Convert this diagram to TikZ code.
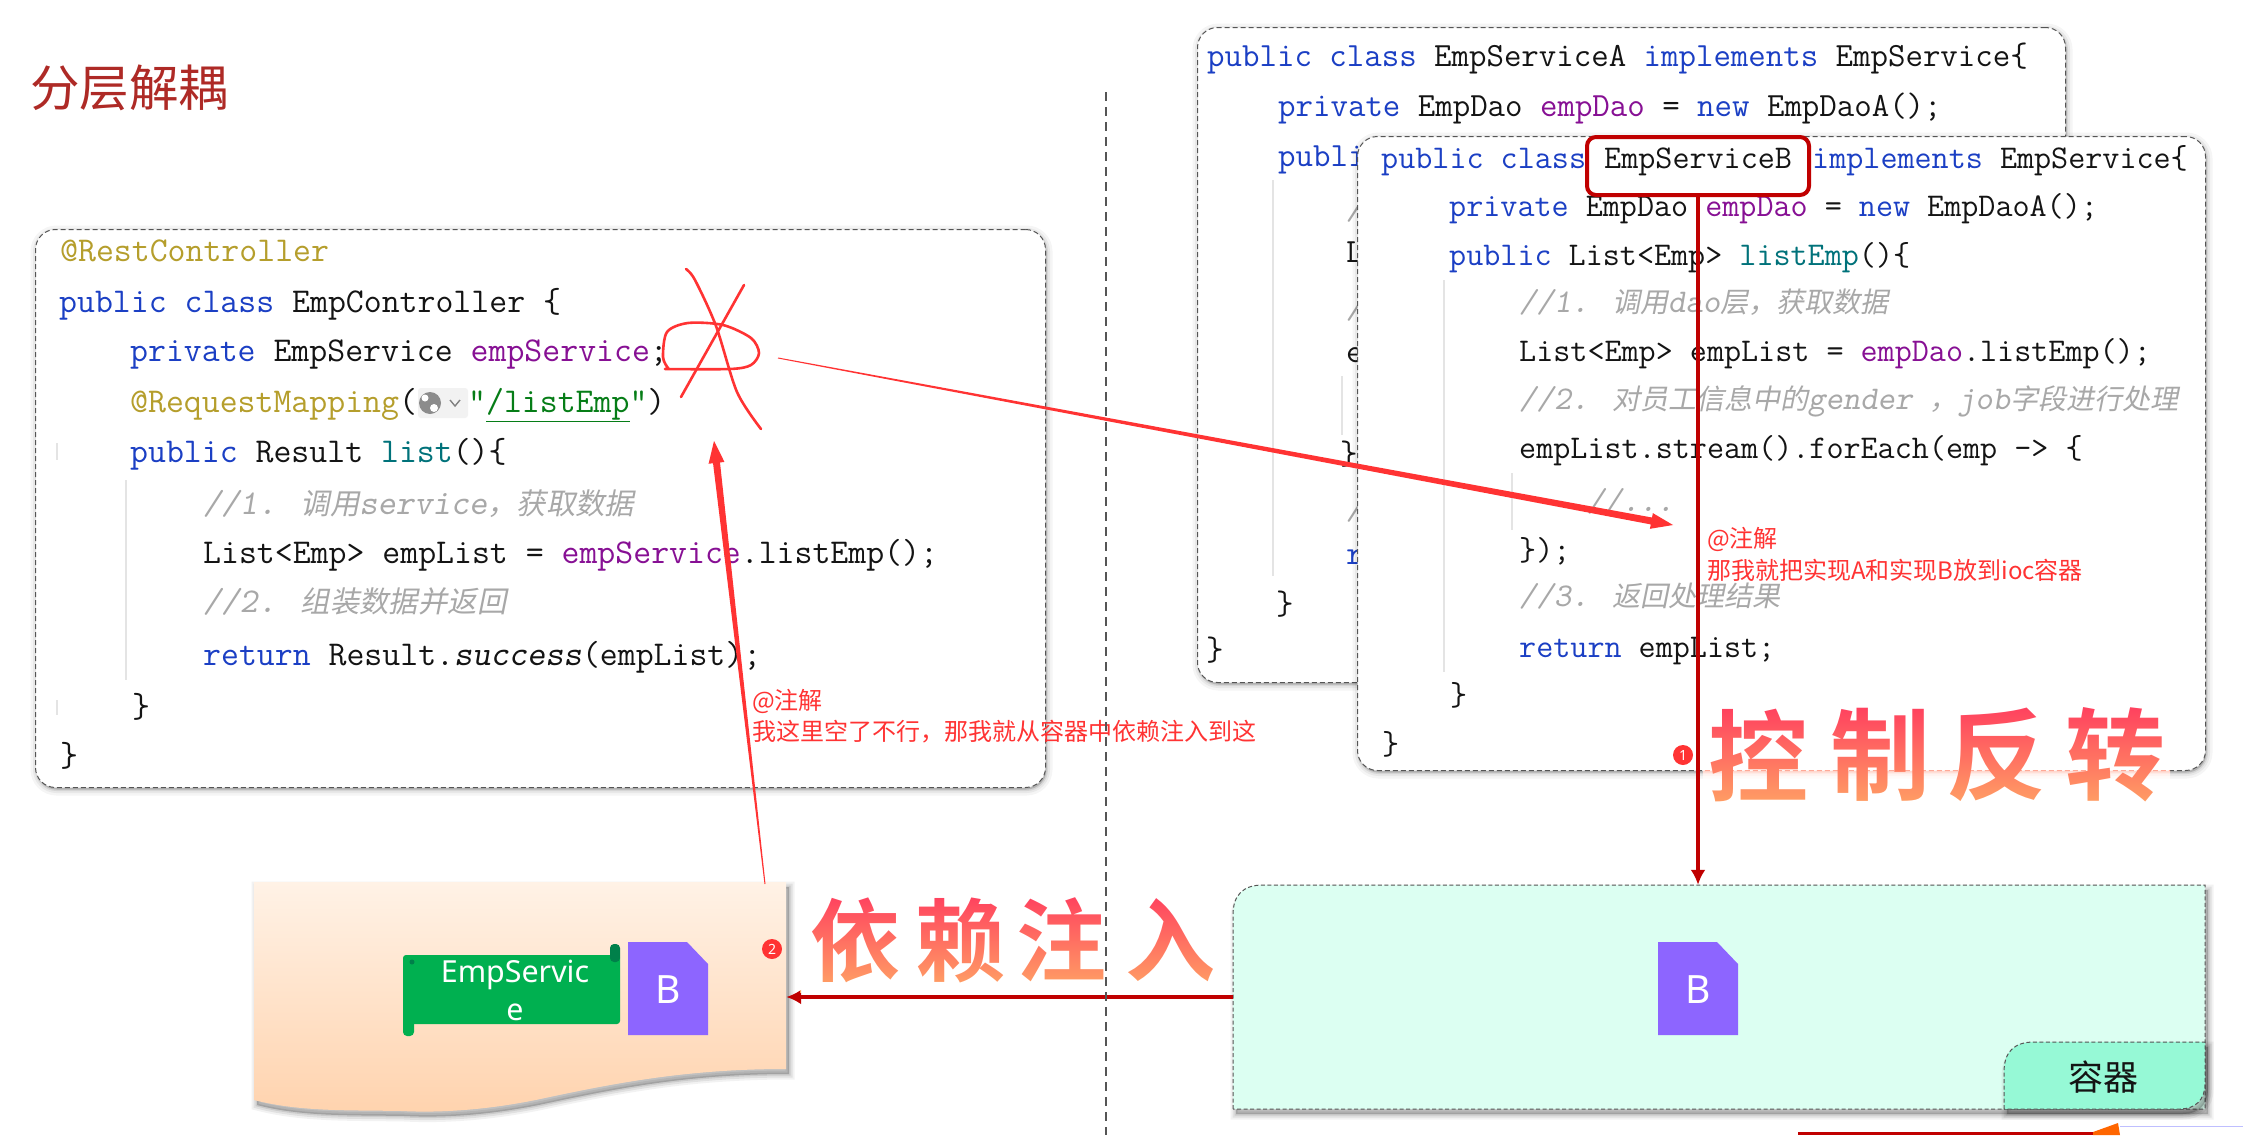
\documentclass[tikz,border=0pt]{standalone}
\usepackage{fontspec}
\usetikzlibrary{arrows.meta,calc,positioning,shadows}
\newfontfamily\zh{Noto Sans CJK SC}
\newfontfamily\zhbold{Noto Sans CJK SC Bold}
\newfontfamily\zhit{Noto Sans CJK SC}[FakeSlant=.2,Scale=.845]
\newfontfamily\ui{Noto Sans}
\definecolor{kwblue}{HTML}{1B3FC4}
\definecolor{annotgold}{HTML}{B59E2C}
\definecolor{fieldpurple}{HTML}{871094}
\definecolor{methodteal}{HTML}{00727A}
\definecolor{strgreen}{HTML}{067D17}
\definecolor{cmtgray}{HTML}{A8A8A8}
\definecolor{ink}{HTML}{141414}
\definecolor{guidegray}{HTML}{E4E4E4}
\definecolor{dashgray}{HTML}{555555}
\definecolor{darkred}{HTML}{C00000}
\definecolor{annored}{HTML}{FF3333}
\definecolor{titlered}{HTML}{AE2A26}
\definecolor{iocfill}{HTML}{DCFFF2}
\definecolor{tabfill}{HTML}{96F9D6}
\definecolor{docpurple}{HTML}{8D65FF}
\definecolor{bannergreen}{HTML}{00B050}
\definecolor{bannerdark}{HTML}{00804A}
\definecolor{wavetop}{HTML}{FFF2E6}
\definecolor{wavebottom}{HTML}{FFD3AE}
\definecolor{brushtop}{HTML}{FF3A5E}
\definecolor{brushbottom}{HTML}{FFA565}
\tikzset{>=Latex,
  softshadow/.style={
    general shadow={draw=black,fill=black,solid,opacity=.04,line width=12pt,shadow xshift=1pt,shadow yshift=-2pt},
    general shadow={draw=black,fill=black,solid,opacity=.05,line width=7pt,shadow xshift=1pt,shadow yshift=-2pt},
    general shadow={draw=black,fill=black,solid,opacity=.08,line width=3pt,shadow xshift=1pt,shadow yshift=-2pt}},
  dirshadow/.style={
    general shadow={draw=black,fill=black,solid,opacity=.05,line width=11pt,shadow xshift=3pt,shadow yshift=-5pt},
    general shadow={draw=black,fill=black,solid,opacity=.07,line width=7pt,shadow xshift=3pt,shadow yshift=-5pt},
    general shadow={draw=black,fill=black,solid,opacity=.09,line width=3pt,shadow xshift=3pt,shadow yshift=-5pt}},
  codebox/.style={draw=dashgray,dash pattern=on 5pt off 3pt,line width=1pt,fill=white,rounded corners=20pt,
    anchor=north west,inner sep=0pt,softshadow},
  codeline/.style={anchor=mid west,inner sep=0pt,yshift=-7pt,text=ink,font=\ttfamily\fontsize{34.8}{40}\selectfont},
  codelineA/.style={codeline,font=\ttfamily\fontsize{33.9}{40}\selectfont},
  codelineB/.style={codeline,font=\ttfamily\fontsize{33.15}{40}\selectfont},
  guide/.style={draw=guidegray,line width=1.5pt},
  hilite/.style={draw=darkred,line width=4pt,rounded corners=9pt,anchor=north west,inner sep=0pt},
  flow/.style={draw=darkred,line width=4pt,-{Latex[length=15pt,width=15pt]}},
  divider/.style={draw=dashgray,line width=2pt,dash pattern=on 9pt off 6pt},
  annotext/.style={anchor=mid west,inner sep=0pt,yshift=-5pt,text=annored,font=\zh\fontsize{24}{28}\selectfont},
  pen/.style={draw=annored,line width=2.6pt,line cap=round,line join=round},
  badge/.style={circle,fill=annored,inner sep=0pt,minimum size=20pt,text=white,font=\ui\fontsize{14}{14}\selectfont},
  bletter/.style={inner sep=0pt,text=white,font=\ui\fontsize{39}{39}\selectfont},
  brushfont/.style={inner sep=0pt,text=black,font=\zhbold\fontsize{#1}{#1}\selectfont}}
\newcommand{\kw}[1]{\textcolor{kwblue}{#1}}
\newcommand{\fld}[1]{\textcolor{fieldpurple}{#1}}
\newcommand{\mth}[1]{\textcolor{methodteal}{#1}}
\newcommand{\ann}[1]{\textcolor{annotgold}{#1}}
\newcommand{\cmt}[1]{\textcolor{cmtgray}{\slshape #1}}
\newcommand{\zi}[1]{{\zhit #1}}
\newcommand{\bdoc}[3]{\fill[docpurple] (#2,#3) -- ++(59,0) -- ++(21,22) -- ++(0,71) -- ++(-80,0) -- cycle;
  \node[bletter] (#1) at (#2+40,#3+48) {B};}
\newcommand{\taper}[2]{\fill[annored] ($(#1)!.5pt!90:(#2)$) -- ($($(#2)!22pt!(#1)$)!3.5pt!90:(#2)$)
  -- ($($(#2)!22pt!(#1)$)!8pt!90:(#2)$) -- (#2) -- ($($(#2)!22pt!(#1)$)!8pt!-90:(#2)$)
  -- ($($(#2)!22pt!(#1)$)!3.5pt!-90:(#2)$) -- ($(#1)!.5pt!-90:(#2)$) -- cycle;}
\begin{document}
\begin{tikzpicture}[x=1pt,y=-1pt]
\useasboundingbox (0,0) rectangle (2243,1135);
\fill[white] (0,0) rectangle (2243,1135);
\node[inner sep=0pt,anchor=mid west,text=titlered,font=\zh\fontsize{49.5}{56}\selectfont] (title) at (30,104) {分层解耦};

\node[codebox,minimum width=1010pt,minimum height=558pt] (ctrlbox) at (35,229) {};
\node[codeline] (c1) at (60,252) {\ann{@RestController}};
\node[codeline] (c2) at (59,303) {\kw{public class} EmpController \{};
\node[codeline] (c3) at (130,352) {\kw{private} EmpService \fld{empService};};
\node[codeline] (c4) at (130,403) {\ann{@RequestMapping}(};
\node[inner sep=0pt,fill=black!5,rounded corners=3pt,minimum width=50pt,minimum height=30pt] (globe) at (443,403) {};
\fill[black!45] (430,403) circle (11pt);
\fill[white] (425,398) circle (3.5pt) (434,408) circle (4pt);
\draw[black!50,line width=1.4pt] (450,400) -- (455,406) -- (460,400);
\node[codeline] (c4s) at (468,403) {\textcolor{strgreen}{"\underline{/listEmp}"})};
\node[codeline] (c5) at (130,453) {\kw{public} Result \mth{list}()\{};
\node[codeline] (c6) at (203,505) {\cmt{//1. \zi{调用}service\zi{，获取数据}}};
\node[codeline] (c7) at (203,554) {List<Emp> empList = \fld{empService}.listEmp();};
\node[codeline] (c8) at (203,603) {\cmt{//2. \zi{组装数据并返回}}};
\node[codeline] (c9) at (203,656) {\kw{return} Result.{\slshape success}(empList);};
\node[codeline] (c10) at (132,708) {\}};
\node[codeline] (c11) at (60,757) {\}};
\draw[guide] (126,480) -- (126,680) (57,443) -- (57,460) (57,700) -- (57,715);

\node[codebox,minimum width=868pt,minimum height=655pt] (boxA) at (1197,27) {};
\node[codelineA] (a1) at (1207,57) {\kw{public class} EmpServiceA \kw{implements} EmpService\{};
\node[codelineA] (a2) at (1278,107) {\kw{private} EmpDao \fld{empDao} = \kw{new} EmpDaoA();};
\node[codelineA] (a3) at (1278,157) {\kw{publi}};
\node[codelineA] (a4) at (1346,210) {\cmt{/}};
\node[codelineA] (a5) at (1346,253) {L};
\node[codelineA] (a6) at (1346,309) {\cmt{/}};
\node[codelineA] (a7) at (1346,353) {e};
\node[codelineA] (a8) at (1340,455) {\}};
\node[codelineA] (a9) at (1346,510) {\cmt{/}};
\node[codelineA] (a10) at (1346,555) {\kw{r}};
\node[codelineA] (a11) at (1276,605) {\}};
\node[codelineA] (a12) at (1206,651) {\}};
\draw[guide] (1273,180) -- (1273,576) (1342,376) -- (1342,435);

\node[codebox,minimum width=848pt,minimum height=634pt] (boxB) at (1357,136) {};
\node[codelineB] (b1) at (1381,159) {\kw{public class}};
\node[codelineB] (b1m) at (1604,159) {EmpServiceB};
\node[codelineB] (b1e) at (1812,159) {\kw{implements} EmpService\{};
\node[codelineB] (b2) at (1449,207) {\kw{private} EmpDao \fld{empDao} = \kw{new} EmpDaoA();};
\node[codelineB] (b3) at (1449,256) {\kw{public} List<Emp> \mth{listEmp}()\{};
\node[codelineB] (b4) at (1519,303) {\cmt{//1. \zi{调用}dao\zi{层，获取数据}}};
\node[codelineB] (b5) at (1519,352) {List<Emp> empList = \fld{empDao}.listEmp();};
\node[codelineB] (b6) at (1519,400) {\cmt{//2. \zi{对员工信息中的}gender \zi{，}job\zi{字段进行处理}}};
\node[codelineB] (b7) at (1519,449) {empList.stream().forEach(emp -> \{};
\node[codelineB] (b8) at (1587,502) {\cmt{//...}};
\node[codelineB] (b9) at (1519,551) {\});};
\node[codelineB] (b10) at (1519,597) {\cmt{//3. \zi{返回处理结果}}};
\node[codelineB] (b11) at (1519,648) {\kw{return} empList;};
\node[codelineB] (b12) at (1450,696) {\}};
\node[codelineB] (b13) at (1382,745) {\}};
\draw[guide] (1444,280) -- (1444,672) (1512,473) -- (1512,530);
\node[hilite,minimum width=222pt,minimum height=58pt] (hiliteB) at (1585,135) {};

\node[inner sep=0pt,minimum width=532pt,minimum height=229pt] (wave) at (520,996.5) {};
\path[top color=wavetop,bottom color=wavebottom,dirshadow] (254,882) -- (786,882) -- (786,1069)
  .. controls (690,1069) and (620,1082) .. (545,1098) .. controls (490,1110) and (440,1113) .. (402,1111)
  .. controls (350,1110) and (300,1112) .. (254,1100) -- cycle;
\node[inner sep=0pt,minimum width=972pt,minimum height=224pt] (ioc) at (1719,997) {};
\draw[draw=dashgray,dash pattern=on 4pt off 2.5pt,line width=1pt,fill=iocfill,dirshadow] (1233,1109) -- (1233,915)
  .. controls (1233,895) and (1243,885) .. (1263,885) -- (2205,885) -- (2205,1109) -- cycle;
\draw[draw=dashgray,dash pattern=on 4pt off 2.5pt,line width=1pt,fill=tabfill,dirshadow] (2004,1109) -- (2004,1072)
  .. controls (2004,1052) and (2014,1042) .. (2034,1042) -- (2205,1042) -- (2205,1084)
  .. controls (2205,1100) and (2195,1109) .. (2180,1109) -- cycle;
\node[inner sep=0pt,text=ink,font=\zh\fontsize{35}{40}\selectfont] (tab) at (2103,1077) {容器};
\bdoc{docB}{1658}{942}
\fill[bannergreen,rounded corners=3pt] (403,955) rectangle (620,1024);
\fill[bannergreen,rounded corners=4pt] (403,1000) rectangle (414,1036);
\fill[bannerdark,rounded corners=4pt] (610,944) rectangle (620,962);
\fill[bannerdark] (412,962) circle (2.5pt);
\node[inner sep=0pt,align=center,text=white,font=\ui\fontsize{30.4}{38}\selectfont] (banner) at (515,990) {EmpServic\\e};
\bdoc{docLeft}{628}{942}

\draw[flow] (hiliteB.south) -- (hiliteB.south |- ioc.north);
\draw[flow] (ioc.west) -- (ioc.west -| wave.east);
\node[badge] (badge1) at (1683,755) {1};
\node[badge] (badge2) at (772,949) {2};

\draw[pen] plot[smooth] coordinates {(665,369) (730,369) (751,365) (759,353) (751,338) (723,325) (688,323) (667,332) (663,357) (668,368)};
\draw[pen] plot[smooth] coordinates {(686,269) (695,280) (716,326) (737,392) (761,429)};
\draw[pen] (744,285) -- (681,397);
\coordinate (markTail) at (778,358);\coordinate (bHead) at (1673,525);
\coordinate (waveTail) at (765,884);\coordinate (markHead) at (714,441);
\taper{markTail}{bHead}
\taper{waveTail}{markHead}

\node[annotext] (note1) at (752,702) {@注解};
\node[annotext] (note2) at (752,733) {我这里空了不行，那我就从容器中依赖注入到这};
\node[annotext] (note3) at (1707,540) {@注解};
\node[annotext] (note4) at (1707,572) {那我就把实现A和实现B放到ioc容器};

\node[brushfont=90] (inject1) at (855,940) {依};
\node[brushfont=90] (inject2) at (960,940) {赖};
\node[brushfont=90] (inject3) at (1061,940) {注};
\node[brushfont=90] (inject4) at (1170,940) {入};
\node[brushfont=100] (invert1) at (1758,755) {控};
\node[brushfont=100] (invert2) at (1880,755) {制};
\node[brushfont=100] (invert3) at (1996,755) {反};
\node[brushfont=100] (invert4) at (2115,755) {转};
\begin{scope}[blend mode=screen]
\fill[top color=brushtop,bottom color=brushbottom] (800,888) rectangle (1225,992);
\fill[top color=brushtop,bottom color=brushbottom] (1703,700) rectangle (2170,810);
\end{scope}
\draw[divider] (1106,92) -- (1106,1135);
\fill[darkred] (1798,1132) rectangle (2093,1135);
\fill[orange!80!red] (2093,1132) -- (2118,1123) -- (2120,1135) -- (2093,1135) -- cycle;
\draw[blue!25,line width=1pt] (2120,1126) -- (2243,1126);
\end{tikzpicture}
\end{document}
